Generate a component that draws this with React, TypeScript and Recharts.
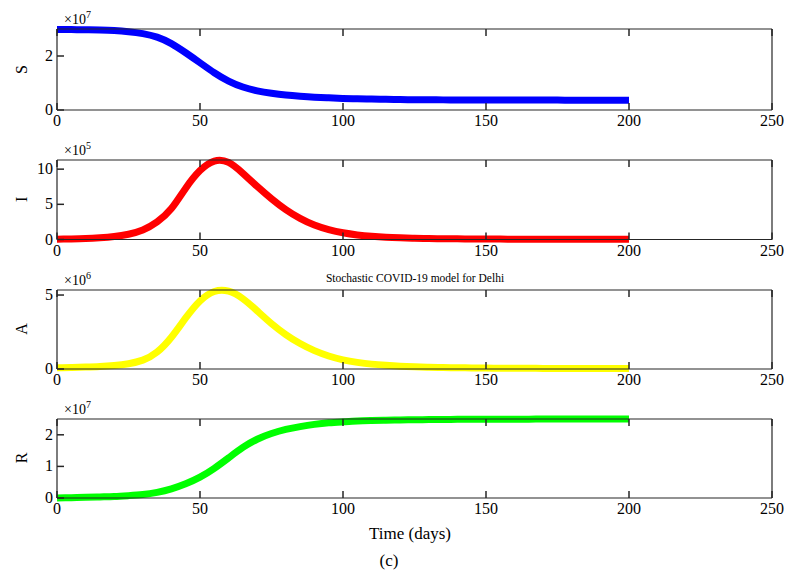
import React from "react";
import { LineChart, Line, XAxis, YAxis } from "recharts";

const DAYS = [
  0, 5, 10, 15, 20, 25, 30, 35, 40, 45, 50, 55, 60, 65, 70, 75, 80, 85, 90, 95, 100,
  105, 110, 115, 120, 125, 130, 135, 140, 145, 150, 155, 160, 165, 170, 175, 180, 185, 190, 195, 200,
];

// values in units of the axis multiplier (S, R: 1e7, I: 1e5, A: 1e6)
const S_VALUES = [
  2.98, 2.978, 2.972, 2.96, 2.94, 2.9, 2.83, 2.7, 2.46, 2.12, 1.75, 1.38, 1.07, 0.85, 0.71, 0.62, 0.555, 0.51, 0.475, 0.45, 0.43,
  0.415, 0.403, 0.394, 0.387, 0.382, 0.378, 0.375, 0.373, 0.371, 0.37, 0.369, 0.368, 0.367, 0.366, 0.366, 0.365, 0.365, 0.365, 0.365, 0.365,
];
const I_VALUES = [
  0.05, 0.08, 0.13, 0.24, 0.42, 0.75, 1.35, 2.5, 4.4, 7.3, 9.8, 11.15, 10.95, 9.4, 7.55, 5.8, 4.25, 3.0, 2.05, 1.4, 0.95,
  0.65, 0.45, 0.32, 0.24, 0.18, 0.14, 0.11, 0.09, 0.075, 0.065, 0.055, 0.05, 0.045, 0.04, 0.037, 0.034, 0.032, 0.03, 0.028, 0.026,
];
const A_VALUES = [
  0.08, 0.1, 0.13, 0.17, 0.24, 0.36, 0.6, 1.15, 2.15, 3.45, 4.6, 5.24, 5.26, 4.75, 3.93, 3.07, 2.33, 1.72, 1.24, 0.88, 0.62,
  0.45, 0.33, 0.25, 0.19, 0.15, 0.12, 0.1, 0.085, 0.072, 0.062, 0.055, 0.05, 0.045, 0.041, 0.038, 0.035, 0.033, 0.031, 0.029, 0.027,
];
const R_VALUES = [
  0, 0.01, 0.02, 0.035, 0.05, 0.075, 0.11, 0.18, 0.29, 0.45, 0.66, 0.94, 1.27, 1.6, 1.86, 2.04, 2.17, 2.26, 2.33, 2.38, 2.41,
  2.435, 2.45, 2.462, 2.47, 2.477, 2.482, 2.486, 2.489, 2.491, 2.493, 2.494, 2.495, 2.496, 2.497, 2.497, 2.498, 2.498, 2.499, 2.499, 2.5,
];

const X_TICKS = [0, 50, 100, 150, 200, 250];

const FONT = "'Liberation Serif', 'Times New Roman', serif";
const AXIS = "#262626";
const TICK_LEN = 7;

const panels = [
  { name: "S", exp: "7", values: S_VALUES, color: "#0000ff", yMax: 3, yTicks: [0, 2], top: 29, bottom: 110 },
  { name: "I", exp: "5", values: I_VALUES, color: "#ff0000", yMax: 11.3, yTicks: [0, 5, 10], top: 159.5, bottom: 239 },
  { name: "A", exp: "6", values: A_VALUES, color: "#ffff00", yMax: 5.34, yTicks: [0, 5], top: 289.5, bottom: 368.5 },
  { name: "R", exp: "7", values: R_VALUES, color: "#00ff00", yMax: 2.5, yTicks: [0, 1, 2], top: 418.5, bottom: 497.5 },
];

const BottomTick = (props: any) => {
  const { x, y, payload } = props;
  return (
    <g>
      <line x1={x} x2={x} y1={y} y2={y - TICK_LEN} stroke={AXIS} strokeWidth={1.5} />
      <text x={x} y={y + 16} textAnchor="middle" fontFamily={FONT} fontSize={16} fill="#000">
        {payload.value}
      </text>
    </g>
  );
};

const TopTick = (props: any) => {
  const { x, y } = props;
  return <line x1={x} x2={x} y1={y} y2={y + TICK_LEN} stroke={AXIS} strokeWidth={1.5} />;
};

const LeftTick = (props: any) => {
  const { x, y, payload } = props;
  return (
    <g>
      <line x1={x} x2={x + TICK_LEN} y1={y} y2={y} stroke={AXIS} strokeWidth={1.5} />
      <text x={x - 4} y={y + 5} textAnchor="end" fontFamily={FONT} fontSize={16} fill="#000">
        {payload.value}
      </text>
    </g>
  );
};

const RightTick = (props: any) => {
  const { x, y } = props;
  return <line x1={x} x2={x - TICK_LEN} y1={y} y2={y} stroke={AXIS} strokeWidth={1.5} />;
};

const PAD = 20;
const LEFT = 57;
const RIGHT = 772;
// axes need a non-zero size to be drawn; 1px is taken from the margins
const AX = 1;

function Panel({ p }: { p: (typeof panels)[number] }) {
  const data = DAYS.map((t, i) => ({ t, v: p.values[i] }));
  const h = p.bottom - p.top;
  const axisProps = {
    tickSize: 0,
    tickMargin: 0,
    tickLine: false,
    axisLine: { stroke: AXIS, strokeWidth: 1.2 },
    interval: 0 as const,
  };
  return (
    <div style={{ position: "absolute", left: 0, top: p.top - PAD }}>
      <LineChart
        width={787}
        height={h + PAD * 2}
        data={data}
        margin={{ top: PAD - AX, bottom: PAD - AX, left: LEFT - AX, right: 787 - RIGHT - AX }}
      >
        <XAxis
          dataKey="t"
          type="number"
          domain={[0, 250]}
          ticks={X_TICKS}
          height={AX}
          tick={<BottomTick />}
          {...axisProps}
        />
        <XAxis
          xAxisId="top"
          orientation="top"
          dataKey="t"
          type="number"
          domain={[0, 250]}
          ticks={X_TICKS}
          height={AX}
          tick={<TopTick />}
          {...axisProps}
        />
        <YAxis
          type="number"
          domain={[0, p.yMax]}
          ticks={p.yTicks}
          width={AX}
          tick={<LeftTick />}
          {...axisProps}
        />
        <YAxis
          yAxisId="right"
          orientation="right"
          type="number"
          domain={[0, p.yMax]}
          ticks={p.yTicks}
          width={AX}
          tick={<RightTick />}
          {...axisProps}
        />
        <Line
          dataKey="v"
          type="natural"
          stroke={p.color}
          strokeWidth={7}
          dot={false}
          activeDot={false}
          isAnimationActive={false}
        />
      </LineChart>
    </div>
  );
}

export default function App() {
  return (
    <div style={{ position: "relative", width: 787, height: 577, background: "#fff", overflow: "hidden" }}>
      <style>{"body{margin:0}"}</style>
      {panels.map((p) => (
        <Panel key={p.name} p={p} />
      ))}
      <svg width={787} height={577} style={{ position: "absolute", left: 0, top: 0, pointerEvents: "none" }}>
        {panels.map((p) => (
          <g key={p.name} fontFamily={FONT} fill="#000">
            <text x={64} y={p.top - 5} fontSize={14}>
              ×10
              <tspan fontSize={10} dy={-6}>
                {p.exp}
              </tspan>
            </text>
            <text
              x={27}
              y={(p.top + p.bottom) / 2}
              fontSize={16}
              textAnchor="middle"
              transform={`rotate(-90 27 ${(p.top + p.bottom) / 2})`}
            >
              {p.name}
            </text>
          </g>
        ))}
        <text x={415} y={282} fontSize={11.5} textAnchor="middle" fontFamily={FONT}>
          Stochastic COVID-19 model for Delhi
        </text>
        <text x={410} y={539} fontSize={17} textAnchor="middle" fontFamily={FONT}>
          Time (days)
        </text>
        <text x={389} y={566} fontSize={17} textAnchor="middle" fontFamily={FONT}>
          (c)
        </text>
      </svg>
    </div>
  );
}
